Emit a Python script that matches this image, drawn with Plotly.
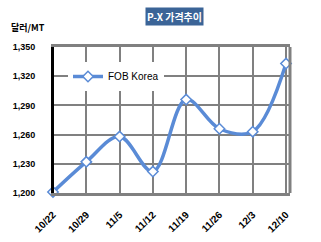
import plotly.graph_objects as go

dates = ["10/22", "10/29", "11/5", "11/12", "11/19", "11/26", "12/3", "12/10"]
fob_korea = [1201, 1232, 1258, 1222, 1296, 1266, 1263, 1333]
y_ticks = [1200, 1230, 1260, 1290, 1320, 1350]
y_labels = ["1,200", "1,230", "1,260", "1,290", "1,320", "1,350"]

xs = list(range(len(dates)))
blue = "#5A8BD6"
font = "Liberation Sans, Arial, sans-serif"
kfont = "Noto Sans CJK KR, Liberation Sans, sans-serif"

W, H = 321, 242
l, r, t, b = 53, 31, 47, 49
pw, ph = W - l - r, H - t - b

def ax(px):
    return (px - l) / pw

def ay(py):
    return 1 - (py - t) / ph

fig = go.Figure()
fig.add_trace(go.Scatter(
    x=xs, y=fob_korea, name="FOB Korea", mode="lines+markers",
    line=dict(color=blue, width=3.5, shape="spline", smoothing=1.0),
    marker=dict(symbol="diamond", size=8, color="white", line=dict(color=blue, width=1.5)),
    cliponaxis=False,
))

fig.update_layout(
    width=W, height=H,
    margin=dict(l=l, r=r, t=t, b=b),
    paper_bgcolor="white", plot_bgcolor="white",
    showlegend=True,
    legend=dict(x=ax(68), y=ay(62), xanchor="left", yanchor="top", bgcolor="white",
                font=dict(family=font, size=10, color="black"),
                itemwidth=30, tracegroupgap=0, borderwidth=0),
    xaxis=dict(
        range=[0, 7.12], tickvals=xs, ticktext=dates, tickangle=-45,
        showgrid=True, gridcolor="#808080", gridwidth=1.5,
        showline=True, linecolor="#808080", linewidth=3, mirror=True,
        zeroline=False, ticks="", ticklabelstandoff=9, automargin=False,
        tickfont=dict(family=font, size=10, color="black", weight="bold"),
    ),
    yaxis=dict(
        range=[1200, 1350], tickvals=y_ticks, ticktext=y_labels,
        showgrid=True, gridcolor="#808080", gridwidth=1.5,
        showline=True, linecolor="black", linewidth=2,
        zeroline=False, ticks="", ticklabelstandoff=14, automargin=False,
        tickfont=dict(family=font, size=9, color="black", weight="bold"),
    ),
    shapes=[
        dict(type="line", xref="paper", yref="paper", x0=1, x1=1, y0=0, y1=1,
             line=dict(color="#808080", width=3)),
        dict(type="line", xref="paper", yref="paper", x0=0, x1=0, y0=0, y1=1,
             line=dict(color="black", width=2)),
    ],
    annotations=[
        dict(text="<b>P-X 가격추이</b>", xref="paper", yref="paper", x=ax(174), y=ay(16.5),
             xanchor="center", yanchor="middle", showarrow=False,
             font=dict(family=kfont, size=10, color="white"),
             bgcolor="#3B6497", borderpad=1),
        dict(text="<b>달러/MT</b>", xref="paper", yref="paper", x=ax(9), y=ay(28),
             xanchor="left", yanchor="middle", showarrow=False,
             font=dict(family=kfont, size=9, color="black")),
    ],
)
fig.write_html("out.html")
